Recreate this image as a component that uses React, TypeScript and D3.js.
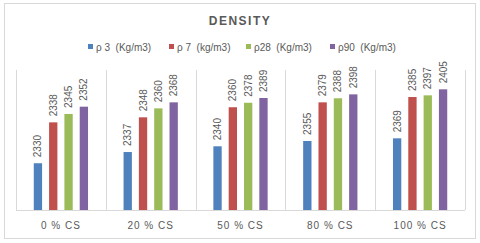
import * as d3 from 'd3';

const categories = ['0 % CS', '20 % CS', '50 % CS', '80 % CS', '100 % CS'];
const seriesNames = ['ρ 3  (Kg/m3)', 'ρ 7  (kg/m3)', 'ρ28  (Kg/m3)', 'ρ90  (Kg/m3)'];
const colors = ['#4F81BD', '#C0504D', '#9BBB59', '#8064A2'];

// printed data labels
const labels3 = [2330, 2337, 2340, 2355, 2369];
const labels7 = [2338, 2348, 2360, 2379, 2385];
const labels28 = [2345, 2360, 2378, 2388, 2397];
const labels90 = [2352, 2368, 2389, 2398, 2405];

// bar lengths as drawn (hidden axis, 0-100 of plot height)
const bars3 = [33.4, 41.4, 45.5, 49.3, 51.2];
const bars7 = [62.6, 66.2, 73.4, 76.9, 80.7];
const bars28 = [68.6, 72.6, 76.6, 79.8, 81.9];
const bars90 = [73.8, 76.9, 80, 82.6, 86.2];

const labelSets = [labels3, labels7, labels28, labels90];
const barSets = [bars3, bars7, bars28, bars90];

const legendX = [88, 169, 246, 330];

export default function App() {
  const width = 480;
  const height = 243;
  const left = 16;
  const right = 465;
  const top = 70;
  const bottom = 210;

  const x = d3.scaleBand<string>().domain(categories).range([left, right]).paddingInner(0).paddingOuter(0);
  const inner = d3
    .scaleBand<number>()
    .domain([0, 1, 2, 3])
    .range([0, x.bandwidth()])
    .paddingInner(0.457)
    .paddingOuter(1.16);
  const y = d3.scaleLinear().domain([0, 100]).range([bottom, top]);

  const textColor = '#595959';
  const font = '"Liberation Sans", Arial, sans-serif';

  return (
    <div>
      <style>{`body{margin:0}`}</style>
      <svg width={width} height={height} style={{ display: 'block', fontFamily: font }}>
        <rect x={0} y={0} width={width} height={height} fill="#fff" />
        <rect x={4.5} y={3.5} width={471} height={235} fill="none" stroke="#D9D9D9" />

        <text
          x={240}
          y={25}
          textAnchor="middle"
          fontSize={12}
          fontWeight="bold"
          letterSpacing={1.5}
          fill={textColor}
        >
          DENSITY
        </text>

        {seriesNames.map((name, i) => (
          <g key={name} transform={`translate(${legendX[i]},47)`}>
            <rect x={0} y={-3} width={5} height={5} fill={colors[i]} />
            <text x={8} y={3.5} fontSize={10} fill={textColor} style={{ whiteSpace: 'pre' }}>
              {name}
            </text>
          </g>
        ))}

        {categories.map((c) => (
          <line
            key={'g' + c}
            x1={Math.round(x(c)!) + 0.5}
            x2={Math.round(x(c)!) + 0.5}
            y1={top}
            y2={bottom}
            stroke="#D9D9D9"
          />
        ))}
        <line x1={right + 0.5} x2={right + 0.5} y1={top} y2={bottom} stroke="#D9D9D9" />
        <line x1={left} x2={right} y1={bottom + 0.5} y2={bottom + 0.5} stroke="#D9D9D9" />

        {categories.map((c, ci) => (
          <g key={c} transform={`translate(${x(c)},0)`}>
            {barSets.map((s, si) => {
              const bx = inner(si)!;
              const top = y(s[ci]);
              const cx = bx + inner.bandwidth() / 2;
              return (
                <g key={si}>
                  <rect x={bx} y={top} width={inner.bandwidth()} height={bottom - top} fill={colors[si]} />
                  <text
                    transform={`translate(${cx + 3.5},${top - 6}) rotate(-90)`}
                    fontSize={10}
                    fill={textColor}
                  >
                    {labelSets[si][ci]}
                  </text>
                </g>
              );
            })}
            <text
              x={x.bandwidth() / 2}
              y={229}
              textAnchor="middle"
              fontSize={10}
              letterSpacing={1}
              fill={textColor}
              style={{ whiteSpace: 'pre' }}
            >
              {c}
            </text>
          </g>
        ))}
      </svg>
    </div>
  );
}
